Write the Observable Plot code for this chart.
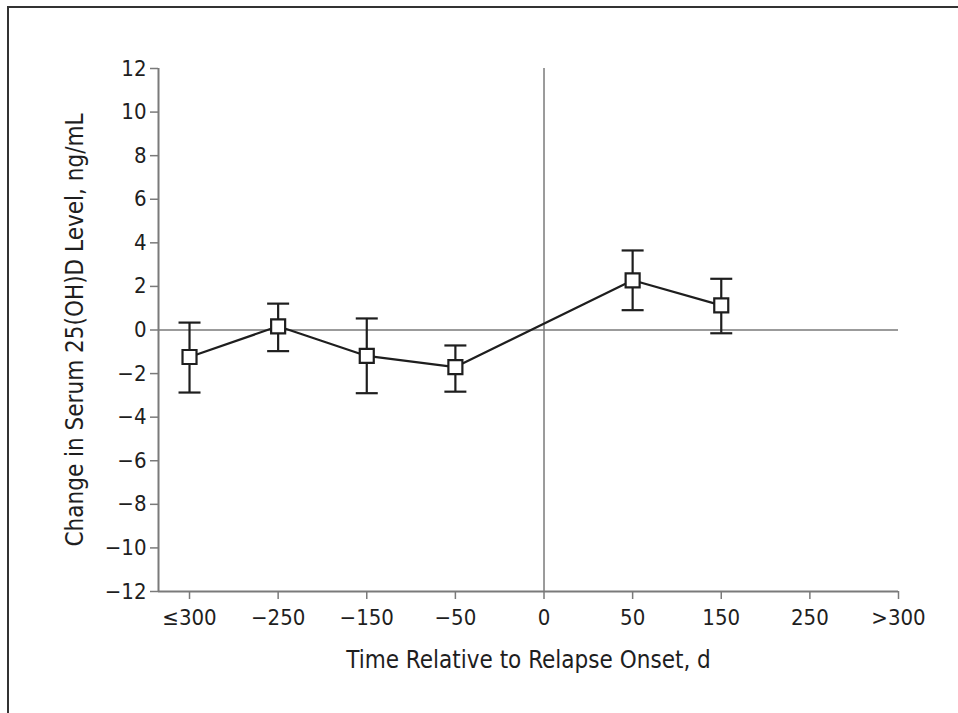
<!DOCTYPE html>
<html>
<head>
<meta charset="utf-8">
<script src="https://cdn.jsdelivr.net/npm/d3@7"></script>
<script src="https://cdn.jsdelivr.net/npm/@observablehq/plot@0.6"></script>
<style>
  html, body { margin: 0; padding: 0; background: #fff; }
  #wrap { position: relative; width: 958px; height: 713px; overflow: hidden; }
  #border { position: absolute; left: 7px; top: 6px; right: -10px; bottom: -10px;
            border-top: 2px solid #333; border-left: 2px solid #333; pointer-events: none; }
  #chart { position: absolute; left: 0; top: 0; }
</style>
</head>
<body>
<div id="wrap"><div id="chart"></div><div id="border"></div></div>
<script>
// Category labels of the x axis (equally spaced positions)
const categories = ["≤300", "−250", "−150", "−50", "0", "50", "150", "250", ">300"];
// Time points with data
const timepoints = ["≤300", "−250", "−150", "−50", "50", "150"];
// Mean change in serum 25(OH)D, ng/mL
const means = [-1.24, 0.17, -1.19, -1.70, 2.28, 1.13];
// Error bar bounds
const lower = [-2.87, -0.97, -2.90, -2.83, 0.91, -0.15];
const upper = [0.34, 1.21, 0.53, -0.71, 3.65, 2.35];
// Y ticks
const yTicks = d3.range(-12, 13, 2);

const xTitle = "Time Relative to Relapse Onset, d";
const yTitle = "Change in Serum 25(OH)D Level, ng/mL";

const data = timepoints.map((t, i) => ({
  pos: categories.indexOf(t), mean: means[i], lo: lower[i], hi: upper[i]
}));

const fmtY = d => d < 0 ? "\u2212" + Math.abs(d) : String(d);
const ink = "#1e1e1e";
const axisGray = "#7a7a7a";
const FONT = "'Liberation Sans Narrow', 'Arial Narrow', 'DejaVu Sans Condensed', 'Liberation Sans', sans-serif";

const capSymbol = {
  draw(context) { context.moveTo(-11, 0); context.lineTo(11, 0); }
};

const chart = Plot.plot({
  width: 958,
  height: 713,
  marginLeft: 158,
  marginRight: 60,
  marginTop: 68,
  marginBottom: 122,
  style: { fontFamily: FONT, fontSize: "22px", color: ink, background: "transparent" },
  x: { type: "linear", domain: [-0.35, 8], axis: null },
  y: { domain: [-12, 12], axis: null },
  marks: [
    // reference lines
    Plot.ruleY([0], { stroke: axisGray, strokeWidth: 1.5 }),
    Plot.ruleX([categories.indexOf("0")], { stroke: axisGray, strokeWidth: 1.5 }),
    // axis lines
    Plot.ruleX([-0.35], { stroke: axisGray, strokeWidth: 2 }),
    Plot.ruleY([-12], { stroke: axisGray, strokeWidth: 2 }),
    // axes
    Plot.axisY({ ticks: yTicks, tickFormat: fmtY, tickSize: 8, tickPadding: 4, stroke: axisGray, fill: ink, strokeWidth: 1.5, label: null, fontSize: 22 }),
    Plot.axisX({ ticks: d3.range(categories.length), tickFormat: i => categories[i], tickSize: 8, tickPadding: 10, stroke: axisGray, fill: ink, strokeWidth: 1.5, label: null, fontSize: 22 }),
    // axis titles
    Plot.text([xTitle], { text: d => d, frameAnchor: "bottom", lineAnchor: "bottom", dy: 76, fontSize: 24, fill: ink }),
    Plot.text([yTitle], { text: d => d, frameAnchor: "left", textAnchor: "middle", lineAnchor: "bottom", rotate: -90, dx: -76, fontSize: 24, fill: ink }),
    // data
    Plot.ruleX(data, { x: "pos", y1: "lo", y2: "hi", stroke: ink, strokeWidth: 2.2 }),
    Plot.dot(data, { x: "pos", y: "hi", symbol: capSymbol, fill: "none", stroke: ink, strokeWidth: 2.2, r: 5 }),
    Plot.dot(data, { x: "pos", y: "lo", symbol: capSymbol, fill: "none", stroke: ink, strokeWidth: 2.2, r: 5 }),
    Plot.line(data, { x: "pos", y: "mean", stroke: ink, strokeWidth: 2.2 }),
    Plot.dot(data, { x: "pos", y: "mean", symbol: "square", r: 7.9, fill: "white", stroke: ink, strokeWidth: 2.2 })
  ]
});

document.getElementById("chart").appendChild(chart);
</script>
</body>
</html>
